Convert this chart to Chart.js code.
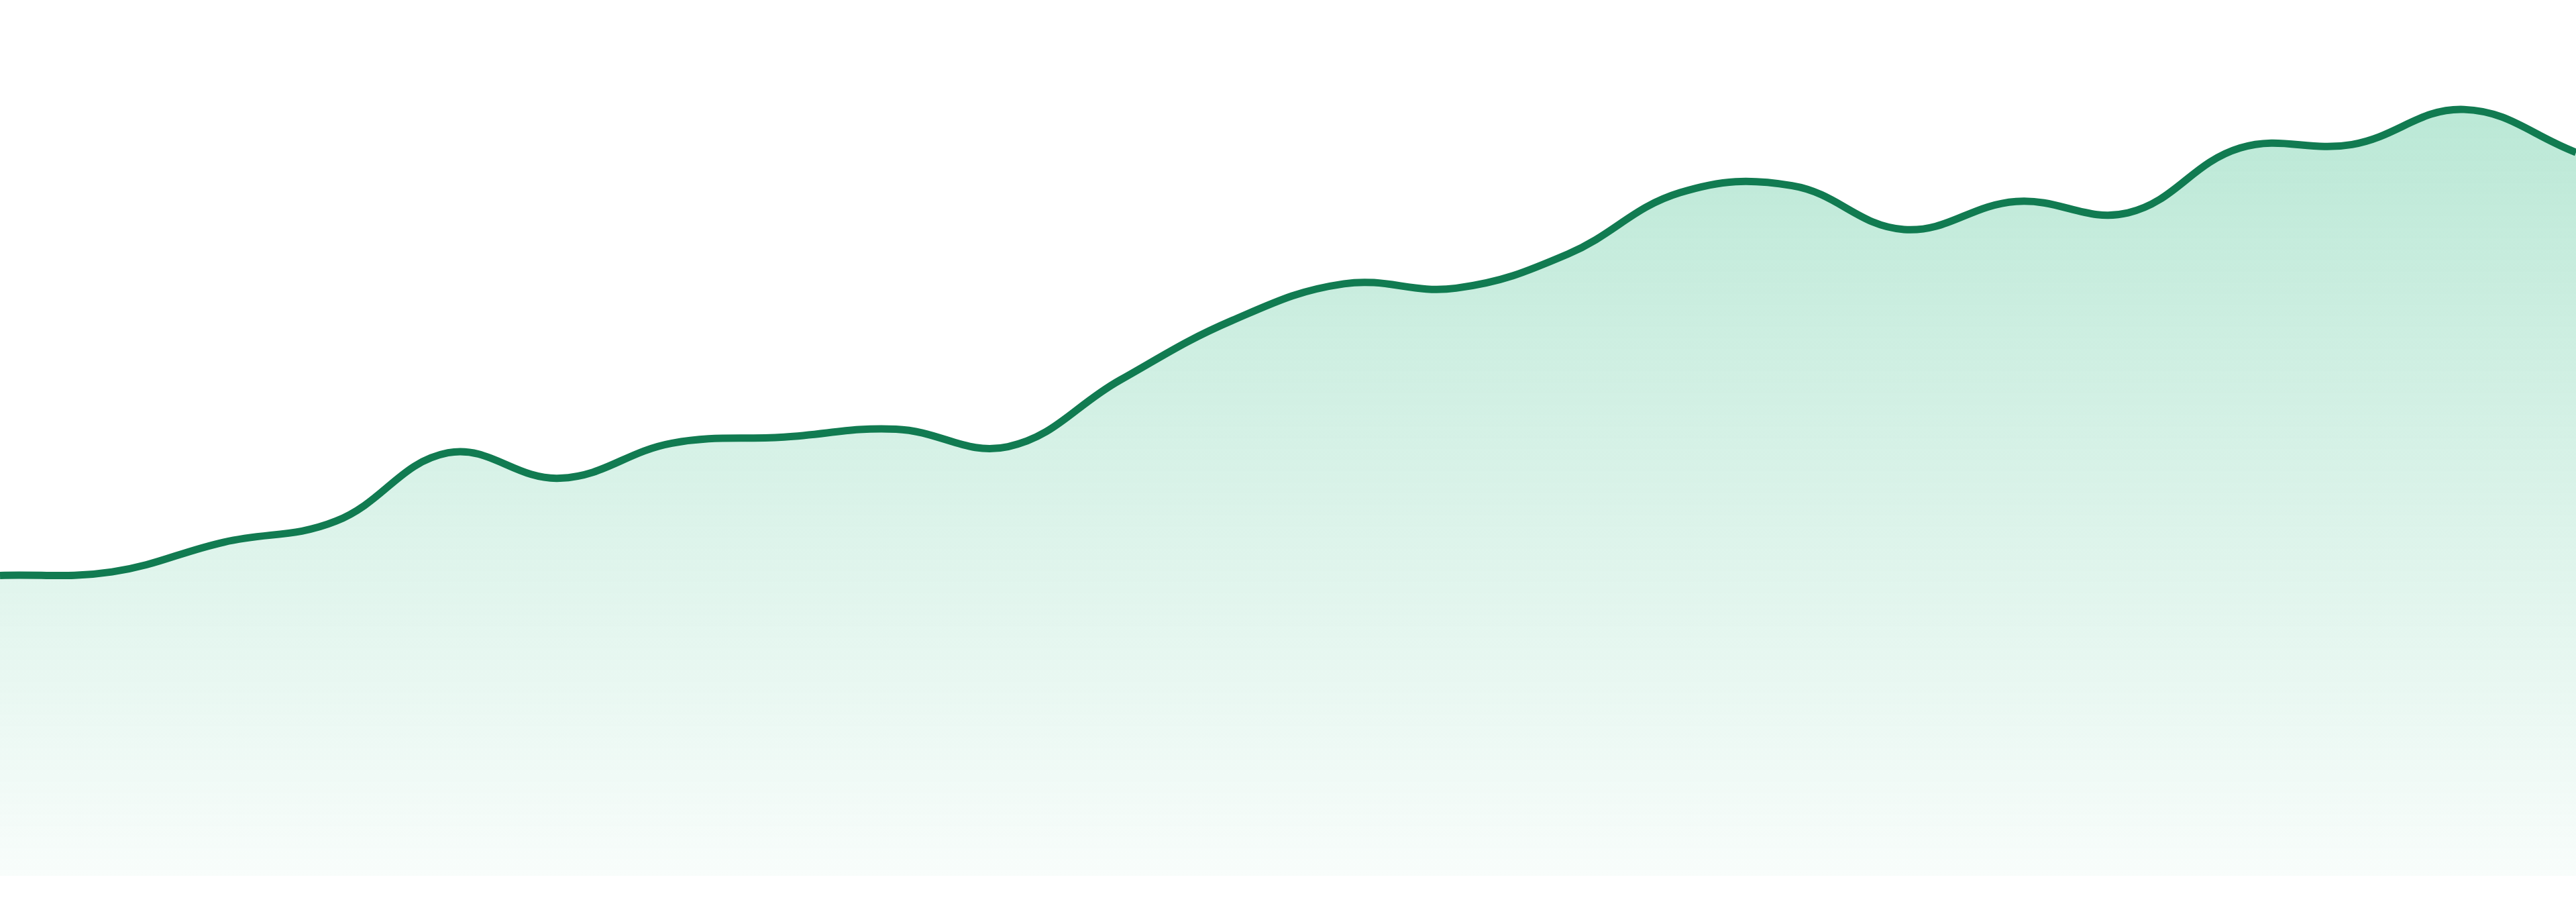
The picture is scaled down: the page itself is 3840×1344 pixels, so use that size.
<!DOCTYPE html>
<html>
<head>
<meta charset="utf-8">
<script src="https://cdn.jsdelivr.net/npm/chart.js@4"></script>
<style>
  html, body { margin: 0; padding: 0; background: #fff; }
  #wrap { width: 3840px; height: 1344px; position: relative; }
</style>
</head>
<body>
<div id="wrap"><canvas id="chartCanvas"></canvas></div>
<script>
// 24 evenly spaced points (0..100 scale)
const labels = ["1", "2", "3", "4", "5", "6", "7", "8", "9", "10", "11", "12",
                "13", "14", "15", "16", "17", "18", "19", "20", "21", "22", "23", "24"];
const values = [34.3, 34.7, 38.1, 40.5, 48.3, 45.4, 49.4, 50.1, 51.0, 49.0, 56.6, 63.4,
                67.6, 67.1, 71.0, 78.0, 78.8, 73.8, 77.0, 75.7, 83.1, 83.5, 87.5, 82.6];
const yMin = 0;
const yMax = 100;

const lineColor = "#117b51";

function areaGradient(context) {
    const chart = context.chart;
    const area = chart.chartArea;
    if (!area) return "rgba(40,185,125,0.2)";
    const g = chart.ctx.createLinearGradient(0, area.top, 0, area.bottom);
    g.addColorStop(0, "rgba(30,180,120,0.34)");
    g.addColorStop(1, "rgba(30,180,120,0.03)");
    return g;
}

document.addEventListener("DOMContentLoaded", () => {
    const ctx = document.getElementById("chartCanvas").getContext("2d");

    new Chart(ctx, {
        type: "line",
        data: {
            labels: labels,
            datasets: [{
                data: values,
                borderColor: lineColor,
                borderWidth: 11,
                backgroundColor: areaGradient,
                fill: "start",
                tension: 0.4,
                pointRadius: 0,
                pointHoverRadius: 0
            }]
        },
        options: {
            responsive: true,
            maintainAspectRatio: false,
            animation: false,
            layout: { padding: { top: 0, right: 0, bottom: 39, left: 0 } },
            plugins: {
                legend: { display: false },
                tooltip: { enabled: false }
            },
            scales: {
                x: { display: false },
                y: { display: false, min: yMin, max: yMax }
            }
        }
    });
});
</script>
</body>
</html>
